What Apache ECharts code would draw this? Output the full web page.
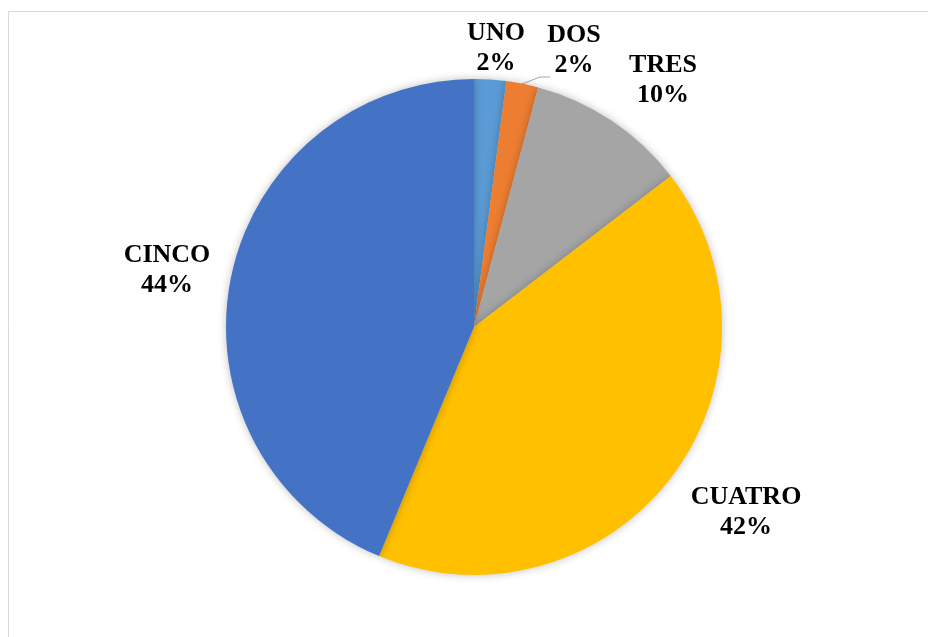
<!DOCTYPE html>
<html><head><meta charset="utf-8">
<script src="https://cdn.jsdelivr.net/npm/echarts@6/dist/echarts.min.js"></script>
<style>html,body{margin:0;padding:0;background:#fff}#c{width:928px;height:637px}</style>
</head><body><div id="c"></div>
<script>
const categories = ['UNO', 'DOS', 'TRES', 'CUATRO', 'CINCO'];
const values = [1, 1, 5, 20, 21];
const colors = ['#5B9BD5', '#ED7D31', '#A5A5A5', '#FFC000', '#4472C4'];
// label block centres (layout only)
const labelCentres = [[496, 48], [574, 50], [663, 80], [746, 512], [167, 270]];

const chart = echarts.init(document.getElementById('c'), null, {renderer: 'canvas'});
chart.setOption({
  animation: false,
  graphic: [{
    type: 'rect', shape: {x: 8.5, y: 11.5, width: 1000, height: 1000},
    style: {fill: 'none', stroke: '#d9d9d9', lineWidth: 1}, silent: true, z: -10
  }],
  series: [{
    type: 'pie',
    center: [474, 327],
    radius: [0, 248],
    startAngle: 90,
    clockwise: true,
    percentPrecision: 0,
    avoidLabelOverlap: false,
    data: categories.map((c, i) => ({
      name: c, value: values[i],
      itemStyle: {color: colors[i]},
      labelLine: {show: i === 1}
    })),
    itemStyle: {borderWidth: 0, shadowBlur: 8, shadowColor: 'rgba(0,0,0,0.25)'},
    label: {
      show: true, position: 'outside',
      formatter: '{b}\n{d}%',
      fontFamily: 'Liberation Serif', fontWeight: 'bold', fontSize: 26,
      lineHeight: 30, color: '#000'
    },
    labelLine: {show: true, length: 10, length2: 12, lineStyle: {color: '#a6a6a6', width: 1}},
    labelLayout: function (p) {
      const c = labelCentres[p.dataIndex];
      const r = {x: c[0], y: c[1], align: 'center', verticalAlign: 'middle', hideOverlap: false, moveOverlap: null};
      if (p.dataIndex === 1) r.labelLinePoints = [[522, 84], [540, 77], [550, 77]];
      return r;
    }
  }]
});
</script></body></html>
